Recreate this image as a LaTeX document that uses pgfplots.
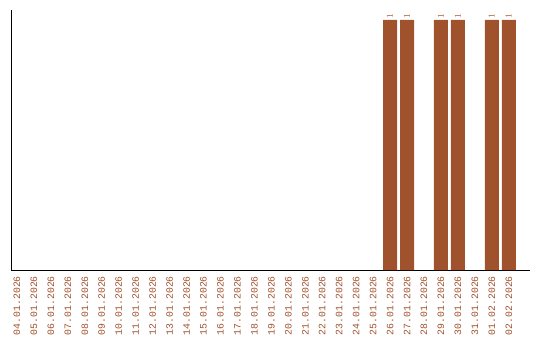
\documentclass[border=0pt]{standalone}
\usepackage{pgfplots}
\pgfplotsset{compat=1.18}
\usepackage{fontspec}
\setmainfont{Liberation Mono}
\definecolor{sienna}{HTML}{A0522D}
\begin{document}
\begin{tikzpicture}
\useasboundingbox (-11pt,-70pt) rectangle (529pt,270pt);
\begin{axis}[
  scale only axis,
  width=519pt, height=260pt,
  xmin=-0.35, xmax=30.25,
  ymin=0, ymax=1.04,
  axis x line=bottom, axis y line=left,
  axis line style={-, black, line width=0.8pt},
  ytick=\empty,
  xtick={0,...,29},
  xticklabels={04.01.2026,05.01.2026,06.01.2026,07.01.2026,08.01.2026,09.01.2026,10.01.2026,11.01.2026,12.01.2026,13.01.2026,14.01.2026,15.01.2026,16.01.2026,17.01.2026,18.01.2026,19.01.2026,20.01.2026,21.01.2026,22.01.2026,23.01.2026,24.01.2026,25.01.2026,26.01.2026,27.01.2026,28.01.2026,29.01.2026,30.01.2026,31.01.2026,01.02.2026,02.02.2026},
  major tick length=0pt,
  x tick label style={rotate=90, anchor=east, text=sienna, font=\fontsize{9.8}{11}\selectfont, inner sep=1pt},
  xticklabel shift=5pt,
  ybar, bar width=14pt,
  nodes near coords,
  every node near coord/.append style={rotate=90, anchor=west, text=sienna, font=\fontsize{9}{10}\selectfont, inner sep=0.5pt, xshift=0.5pt},
  clip=false,
]
\addplot[fill=sienna, draw=none] coordinates {(22,1) (23,1) (25,1) (26,1) (28,1) (29,1)};
\end{axis}
\end{tikzpicture}
\end{document}
